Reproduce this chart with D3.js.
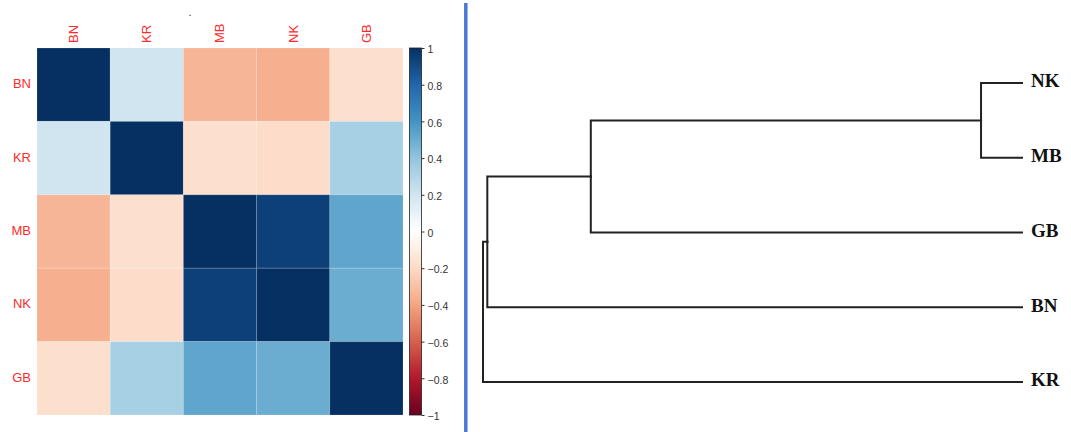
<!DOCTYPE html>
<html>
<head>
<meta charset="utf-8">
<script src="https://cdn.jsdelivr.net/npm/d3@7"></script>
<style>
  html, body { margin: 0; padding: 0; background: #fff; }
  svg { display: block; }
</style>
</head>
<body>
<svg id="chart" width="1071" height="432"></svg>
<script>
// Sample names, in matrix order
const samples = ["BN", "KR", "MB", "NK", "GB"];

// Pairwise correlation matrix (rows follow `samples`)
const corrBN = [1.00, 0.20, -0.34, -0.36, -0.18];
const corrKR = [0.20, 1.00, -0.18, -0.19, 0.33];
const corrMB = [-0.34, -0.18, 1.00, 0.94, 0.53];
const corrNK = [-0.36, -0.19, 0.94, 1.00, 0.50];
const corrGB = [-0.18, 0.33, 0.53, 0.50, 1.00];
const corrRows = [corrBN, corrKR, corrMB, corrNK, corrGB];

// Colour-key ticks
const keyTicks = [1, 0.8, 0.6, 0.4, 0.2, 0, -0.2, -0.4, -0.6, -0.8, -1];

// RdBu diverging palette, evenly spaced from -1 to 1
const rdbu = ["#67001F", "#B2182B", "#D6604D", "#F4A582", "#FDDBC7", "#FFFFFF",
              "#D1E5F0", "#92C5DE", "#4393C3", "#2166AC", "#053061"];

// Hierarchical clustering: merge steps (numbers refer to earlier merges)
const merges = [
  { a: "NK", b: "MB", height: 0.076 },
  { a: 0,    b: "GB", height: 0.800 },
  { a: 1,    b: "BN", height: 0.992 },
  { a: 2,    b: "KR", height: 1.000 }
];

const svg = d3.select("#chart");

// ---------- correlation heatmap ----------
const color = d3.scaleLinear()
  .domain(d3.range(rdbu.length).map(i => -1 + 2 * i / (rdbu.length - 1)))
  .range(rdbu)
  .interpolate(d3.interpolateRgb);

const xCell = d3.scaleBand().domain(samples).range([37, 403]);
const yCell = d3.scaleBand().domain(samples).range([48, 415]);

const cells = [];
corrRows.forEach((row, i) => row.forEach((v, j) => cells.push({ r: samples[i], c: samples[j], v })));

const heat = svg.append("g");
heat.selectAll("rect")
  .data(cells)
  .join("rect")
  .attr("x", d => xCell(d.c))
  .attr("y", d => yCell(d.r))
  .attr("width", xCell.bandwidth())
  .attr("height", yCell.bandwidth())
  .attr("fill", d => color(d.v))
  .attr("stroke", "#ffffff")
  .attr("stroke-opacity", 0.15)
  .attr("stroke-width", 1);

// Column labels (rotated)
heat.selectAll("text.col")
  .data(samples)
  .join("text")
  .attr("class", "col")
  .attr("transform", d => `translate(${xCell(d) + xCell.bandwidth() / 2 + 1},43) rotate(-90)`)
  .attr("text-anchor", "start")
  .attr("dominant-baseline", "middle")
  .attr("font-family", "Liberation Sans, Arial, sans-serif")
  .attr("font-size", 13)
  .attr("fill", "#ff2a2a")
  .text(d => d);

// Row labels
heat.selectAll("text.row")
  .data(samples)
  .join("text")
  .attr("class", "row")
  .attr("x", 31)
  .attr("y", d => yCell(d) + yCell.bandwidth() / 2)
  .attr("text-anchor", "end")
  .attr("dominant-baseline", "middle")
  .attr("font-family", "Liberation Sans, Arial, sans-serif")
  .attr("font-size", 13)
  .attr("fill", "#ff2a2a")
  .text(d => d);

// Title (a single dot)
svg.append("text")
  .attr("x", 190)
  .attr("y", 16)
  .attr("text-anchor", "middle")
  .attr("font-family", "Liberation Sans, Arial, sans-serif")
  .attr("font-size", 11)
  .attr("fill", "#333")
  .text(".");

// ---------- colour key ----------
const keyY = d3.scaleLinear().domain([-1, 1]).range([415, 48]);
const defs = svg.append("defs");
const grad = defs.append("linearGradient")
  .attr("id", "keygrad")
  .attr("x1", 0).attr("y1", 1).attr("x2", 0).attr("y2", 0);
d3.range(0, 1.0001, 0.02).forEach(t => {
  grad.append("stop").attr("offset", t).attr("stop-color", color(-1 + 2 * t));
});

const key = svg.append("g");
key.append("rect")
  .attr("x", 409.5)
  .attr("y", keyY(1))
  .attr("width", 12)
  .attr("height", keyY(-1) - keyY(1))
  .attr("fill", "url(#keygrad)")
  .attr("stroke", "#222")
  .attr("stroke-width", 0.8);

const keyAxis = d3.axisRight(keyY)
  .tickValues(keyTicks)
  .tickSize(3)
  .tickPadding(3)
  .tickFormat(d3.format("~g"));

const keyAxisG = key.append("g")
  .attr("transform", "translate(421.5,0)")
  .call(keyAxis);
keyAxisG.select(".domain").remove();
keyAxisG.selectAll(".tick line").attr("stroke", "#333");
keyAxisG.selectAll(".tick text")
  .attr("font-family", "Liberation Sans, Arial, sans-serif")
  .attr("font-size", 10.5)
  .attr("fill", "#333")
  .attr("dy", "0.45em");

// ---------- separator ----------
svg.append("line")
  .attr("x1", 465.8).attr("x2", 465.8)
  .attr("y1", 3).attr("y2", 432)
  .attr("stroke", "#4a78d4")
  .attr("stroke-width", 3.5);

// ---------- dendrogram ----------
const nodes = merges.map(m => ({ height: m.height, children: [] }));
const leafNode = name => ({ name, height: 0 });
merges.forEach((m, i) => {
  nodes[i].children = [m.a, m.b].map(k => typeof k === "number" ? nodes[k] : leafNode(k));
});
const root = d3.hierarchy(nodes[nodes.length - 1]);

d3.cluster()
  .nodeSize([1, 1])
  .separation(() => 1)(root);

const hx = d3.scaleLinear()
  .domain([0, d3.max(merges, m => m.height)])
  .range([1022, 483]);
const ny = d3.scaleLinear()
  .domain(d3.extent(root.leaves(), d => d.x))
  .range([83, 382]);

const dend = svg.append("g");
dend.selectAll("path")
  .data(root.links())
  .join("path")
  .attr("d", l => `M${hx(l.source.data.height)},${ny(l.source.x)}V${ny(l.target.x)}H${hx(l.target.data.height)}`)
  .attr("fill", "none")
  .attr("stroke", "#222")
  .attr("stroke-width", 2)
  .attr("stroke-linejoin", "miter")
  .attr("stroke-linecap", "square");

dend.selectAll("text")
  .data(root.leaves())
  .join("text")
  .attr("x", 1031)
  .attr("y", d => ny(d.x))
  .attr("dominant-baseline", "middle")
  .attr("font-family", "Liberation Serif, Times New Roman, serif")
  .attr("font-weight", "bold")
  .attr("font-size", 19)
  .attr("fill", "#111")
  .text(d => d.data.name);
</script>
</body>
</html>
